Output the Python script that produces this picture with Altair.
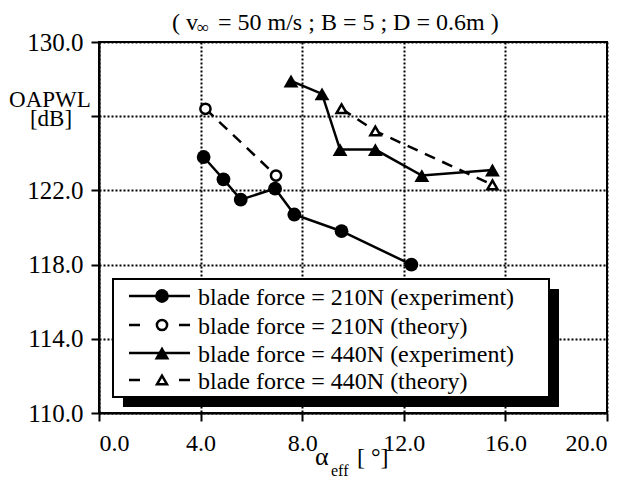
import altair as alt
import pandas as pd

# OAPWL [dB] against effective angle of attack [deg]
exp210_alpha = [4.12, 4.90, 5.58, 6.93, 7.69, 9.55, 12.30]
exp210_level = [123.8, 122.6, 121.5, 122.1, 120.7, 119.8, 118.0]
theo210_alpha = [4.19, 6.97]
theo210_level = [126.4, 122.8]
exp440_alpha = [7.56, 8.78, 9.49, 10.88, 12.71, 15.49]
exp440_level = [127.9, 127.2, 124.2, 124.2, 122.8, 123.1]
theo440_alpha = [9.55, 10.88, 15.49]
theo440_level = [126.4, 125.2, 122.3]

series_names = [
    "blade force = 210N (experiment)",
    "blade force = 210N (theory)",
    "blade force = 440N (experiment)",
    "blade force = 440N (theory)",
]
series_alpha = [exp210_alpha, theo210_alpha, exp440_alpha, theo440_alpha]
series_level = [exp210_level, theo210_level, exp440_level, theo440_level]
series_shape = ["circle", "circle", "triangle-up", "triangle-up"]
series_filled = [True, False, True, False]
series_dashed = [False, True, False, True]

x_ticks = [0, 4, 8, 12, 16, 20]
y_ticks = [110, 114, 118, 122, 126, 130]

FONT = "Liberation Serif"
W, H = 508, 371

x_enc = alt.X(
    "alpha:Q",
    scale=alt.Scale(domain=[0, 20], nice=False, zero=False),
    axis=alt.Axis(values=x_ticks, format=".1f", title=None, labelPadding=10),
)
y_enc = alt.Y(
    "level:Q",
    scale=alt.Scale(domain=[110, 130], nice=False, zero=False),
    axis=alt.Axis(
        values=y_ticks,
        title=None,
        labelPadding=8,
        labelFontSize=25,
        labelExpr="datum.value == 126 ? '' : format(datum.value, '.1f')",
    ),
)


def marker_style(shape, filled):
    if filled:
        size = 190 if shape == "circle" else 220
        return dict(shape=shape, filled=True, color="black", size=size, opacity=1)
    size = 105 if shape == "circle" else 100
    return dict(shape=shape, filled=True, fill="white", stroke="black",
                strokeWidth=2.5, size=size, opacity=1)


layers = []
for name, xs, ys, shape, filled, dashed in zip(
    series_names, series_alpha, series_level, series_shape, series_filled, series_dashed
):
    df = pd.DataFrame({"alpha": xs, "level": ys, "series": name})
    line_kw = dict(color="black", strokeWidth=2.5)
    if dashed:
        line_kw["strokeDash"] = [11, 8]
    base = alt.Chart(df)
    layers.append(base.mark_line(**line_kw).encode(x=x_enc, y=y_enc))
    layers.append(base.mark_point(**marker_style(shape, filled)).encode(x=x_enc, y=y_enc))

one = pd.DataFrame({"k": [0]})
anno = alt.Chart(one)

# legend panel with drop shadow
layers.append(anno.mark_rect(color="black").encode(
    x=alt.value(24), x2=alt.value(460), y=alt.value(247), y2=alt.value(365)))
layers.append(anno.mark_rect(fill="white", stroke="black", strokeWidth=2).encode(
    x=alt.value(14), x2=alt.value(450), y=alt.value(237), y2=alt.value(355)))

row_y = [254, 283, 311, 338]
for name, shape, filled, dashed, ry in zip(
    series_names, series_shape, series_filled, series_dashed, row_y
):
    rule_kw = dict(color="black", strokeWidth=2.5)
    if dashed:
        rule_kw["strokeDash"] = [11, 39]
    layers.append(anno.mark_rule(**rule_kw).encode(
        x=alt.value(30), x2=alt.value(91), y=alt.value(ry)))
    layers.append(anno.mark_point(**marker_style(shape, filled)).encode(
        x=alt.value(63), y=alt.value(ry)))
    layers.append(anno.mark_text(font=FONT, fontSize=24, align="left",
                                 baseline="alphabetic", color="black").encode(
        x=alt.value(99), y=alt.value(ry + 9), text=alt.value(name)))


def label(text, x, y, size=24, align="left"):
    return anno.mark_text(font=FONT, fontSize=size, align=align,
                          baseline="alphabetic", color="black").encode(
        x=alt.value(x), y=alt.value(y), text=alt.value(text))


# heading: ( v_inf = 50 m/s ; B = 5 ; D = 0.6m )
layers.append(label("( v", 73, -12, 24))
layers.append(label("\u221e", 98, -9, 17))
layers.append(label("= 50 m/s ; B = 5 ; D = 0.6m )", 119, -12, 24))

# axis titles
layers.append(label("\u03b1", 216, 423, 26))
layers.append(label("eff", 232, 434, 16))
layers.append(label("[ \u00b0]", 258, 423, 24))
layers.append(label("OAPWL", -49, 65, 23, "center"))
layers.append(label("[dB]", -48, 84, 23, "center"))

chart = (
    alt.layer(*layers)
    .properties(
        width=W,
        height=H,
        autosize=alt.AutoSizeParams(type="none"),
        padding={"left": 99, "top": 42, "right": 27, "bottom": 66},
        background="white",
    )
    .configure_view(stroke="black", strokeWidth=2)
    .configure_axis(
        domainColor="black",
        domainWidth=2,
        tickColor="black",
        tickWidth=2,
        tickSize=8,
        grid=True,
        gridColor="black",
        gridDash=[2, 2],
        gridWidth=2,
        gridOpacity=1,
        labelFont=FONT,
        labelFontSize=24,
        labelColor="black",
    )
)

chart.save("out.html", embed_options={"renderer": "svg", "actions": False})
